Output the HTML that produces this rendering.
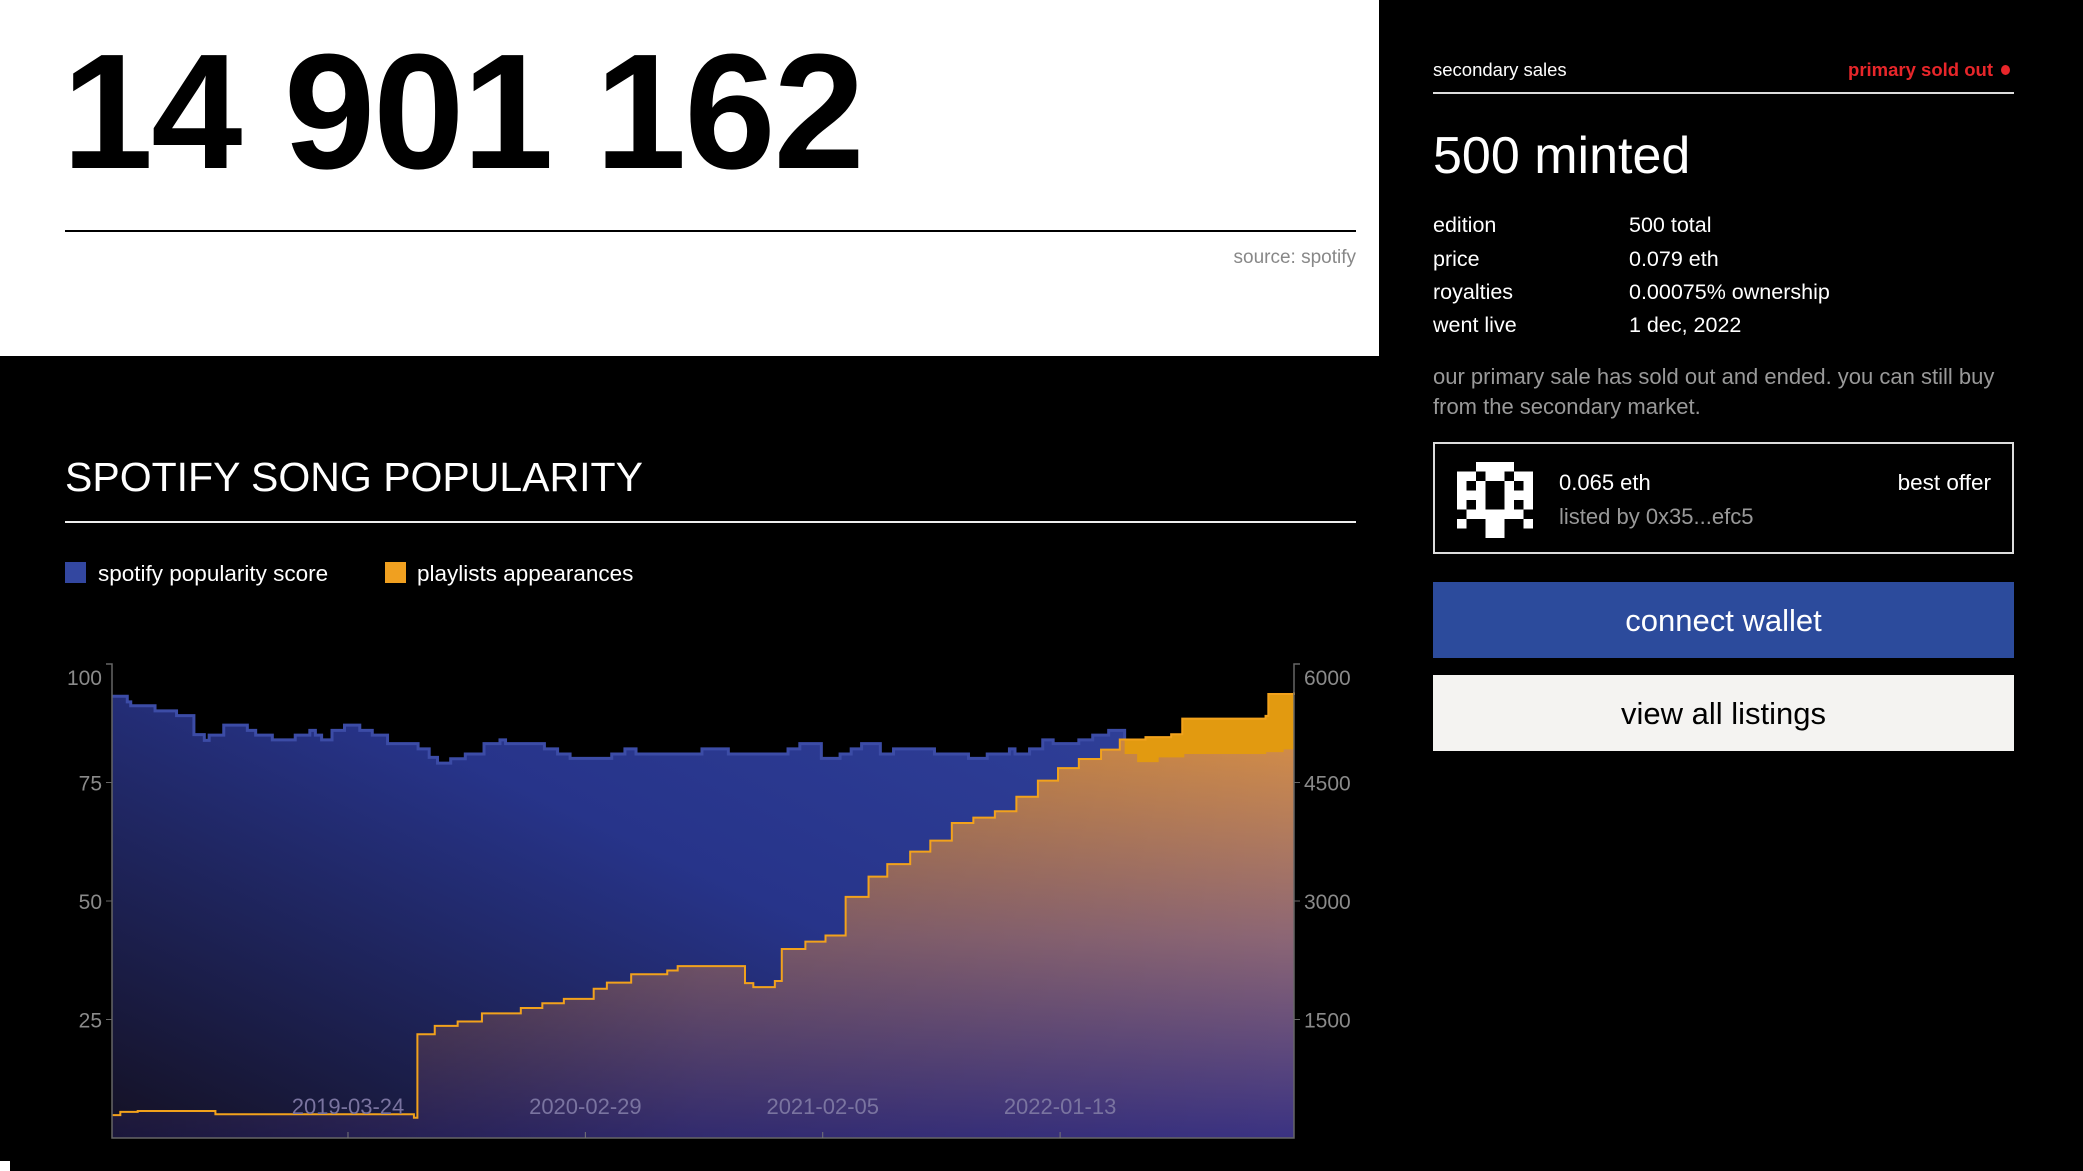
<!DOCTYPE html>
<html><head><meta charset="utf-8"><style>
*{margin:0;padding:0;box-sizing:border-box}
body{width:2083px;height:1171px;overflow:hidden;background:#000;font-family:"Liberation Sans",sans-serif;position:relative;color:#fff}
.a{position:absolute;white-space:nowrap}
</style></head><body>
<div class="a" style="left:0;top:0;width:1379px;height:356px;background:#fff"></div>
<div class="a" style="left:62px;top:30px;font-size:164px;line-height:164px;font-weight:bold;color:#000;letter-spacing:-2px">14 901 162</div>
<div class="a" style="left:65px;top:230px;width:1291px;height:2px;background:#000"></div>
<div class="a" style="right:727px;top:248px;font-size:19px;line-height:20px;color:#888">source: spotify</div>

<div class="a" style="left:1433px;top:60px;font-size:18.5px;line-height:20px">secondary sales</div>
<div class="a" style="right:90px;top:60px;font-size:18.5px;line-height:20px;color:#e8262a;font-weight:bold">primary sold out</div>
<div class="a" style="left:2001px;top:65px;width:9px;height:10px;border-radius:50%;background:#e8262a"></div>
<div class="a" style="left:1433px;top:92px;width:581px;height:2px;background:#ddd"></div>
<div class="a" style="left:1433px;top:130px;font-size:52px;line-height:52px">500 minted</div>
<div class="a" style="left:1433px;top:214px;font-size:21.5px;line-height:22px">edition</div>
<div class="a" style="left:1629px;top:214px;font-size:21.5px;line-height:22px">500 total</div>
<div class="a" style="left:1433px;top:248px;font-size:21.5px;line-height:22px">price</div>
<div class="a" style="left:1629px;top:248px;font-size:21.5px;line-height:22px">0.079 eth</div>
<div class="a" style="left:1433px;top:281px;font-size:21.5px;line-height:22px">royalties</div>
<div class="a" style="left:1629px;top:281px;font-size:21.5px;line-height:22px">0.00075% ownership</div>
<div class="a" style="left:1433px;top:314px;font-size:21.5px;line-height:22px">went live</div>
<div class="a" style="left:1629px;top:314px;font-size:21.5px;line-height:22px">1 dec, 2022</div>
<div class="a" style="left:1433px;top:362px;font-size:22px;line-height:30px;color:#999">our primary sale has sold out and ended. you can still buy<br>from the secondary market.</div>

<div class="a" style="left:1433px;top:442px;width:581px;height:112px;border:2px solid #ddd"></div>
<svg class="a" style="left:1456px;top:462px" width="78" height="76" viewBox="0 0 8 8" shape-rendering="crispEdges" id="av"></svg>
<div class="a" style="left:1559px;top:472px;font-size:22px;line-height:22px">0.065 eth</div>
<div class="a" style="left:1559px;top:506px;font-size:22px;line-height:22px;color:#999">listed by 0x35...efc5</div>
<div class="a" style="right:92px;top:472px;font-size:22.5px;line-height:22px">best offer</div>
<div class="a" style="left:1433px;top:582px;width:581px;height:76px;background:#2c4b9c;font-size:31px;line-height:78px;text-align:center">connect wallet</div>
<div class="a" style="left:1433px;top:675px;width:581px;height:76px;background:#f4f3f1;color:#000;font-size:31px;line-height:78px;text-align:center">view all listings</div>

<div class="a" style="left:65px;top:456px;font-size:41px;line-height:42px">SPOTIFY SONG POPULARITY</div>
<div class="a" style="left:65px;top:521px;width:1291px;height:2px;background:#eee"></div>
<div class="a" style="left:65px;top:562px;width:21px;height:21px;background:#3347a0"></div>
<div class="a" style="left:98px;top:562px;font-size:22.5px;line-height:24px">spotify popularity score</div>
<div class="a" style="left:385px;top:562px;width:21px;height:21px;background:#f0a020"></div>
<div class="a" style="left:417px;top:562px;font-size:22.5px;line-height:24px">playlists appearances</div>
<div class="a" style="left:0;top:1161px;width:10px;height:10px;background:#fff"></div>

<svg class="a" id="chart" style="left:0;top:640px" width="1358" height="531"></svg>

<script>
const startDate = "2018-04-18";
const popDays = [0,22,27,62,93,118,133,140,161,195,207,231,264,285,293,302,317,335,357,375,397,441,457,469,488,509,536,559,567,623,642,660,720,739,755,850,888,974,991,1022,1049,1065,1080,1107,1126,1185,1234,1261,1293,1301,1322,1341,1356,1393,1413,1436,1459,1477,1508,1545,1663,1688,1703];
const popValues = [93.2,92,91.2,90.1,89.1,85.1,83.9,85,87.1,86,85,84,85,86,85,84,86,87.1,86,85,83.2,82.1,80.3,79.1,80,81,83.2,84,83.2,82.1,81,80.1,81,82.1,81,82.1,81,82.1,83.2,80.1,81,82.1,83.2,81,82.1,81,80.1,81,82.1,81,82.1,84,83.2,84,85,86,81,79.3,80.3,81,81.4,82,82];
const plDays = [0,12,37,149,435,440,465,498,533,589,620,651,694,713,748,800,815,900,912,924,955,965,999,1028,1057,1090,1117,1150,1179,1210,1241,1272,1303,1334,1363,1393,1425,1452,1489,1526,1542,1602,1662,1666,1703];
const plValues = [290,330,341,300,256,1313,1420,1475,1578,1646,1706,1761,1889,1966,2072,2120,2175,2175,1960,1910,1987,2392,2486,2563,3053,3309,3467,3625,3765,3987,4055,4136,4320,4524,4682,4797,4916,5045,5074,5110,5309,5309,5343,5620,5641];
const leftTicks = [25,50,75,100];
const rightTicks = [1500,3000,4500,6000];
const dateTicks = ["2019-03-24","2020-02-29","2021-02-05","2022-01-13"];
const totalDays = 1703;

const NS="http://www.w3.org/2000/svg";
const svg=document.getElementById('chart');
const X0=112,X1=1294,YT=24,YB=498;
const dayMs=86400000, t0=Date.parse(startDate);
const x=d=>X0+(d/totalDays)*(X1-X0);
const xDate=s=>x((Date.parse(s)-t0)/dayMs);
const yL=v=>YB-(v/100)*(YB-YT);
const yR=v=>YB-(v/6000)*(YB-YT);
function el(t,a,p){const e=document.createElementNS(NS,t);for(const k in a)e.setAttribute(k,a[k]);(p||svg).appendChild(e);return e;}
function stepPath(days,vals,ys){let d='M'+x(days[0])+','+ys(vals[0]);for(let i=1;i<days.length;i++){d+='H'+x(days[i])+'V'+ys(vals[i]);}return d;}

const defs=el('defs',{});
const g1=el('linearGradient',{id:'gb',x1:'0',y1:'1',x2:'1',y2:'0.2'},defs);
el('stop',{offset:'0','stop-color':'#141124'},g1);el('stop',{offset:'0.6','stop-color':'#27348a'},g1);el('stop',{offset:'1','stop-color':'#2f3f98'},g1);
const g2=el('linearGradient',{id:'go',x1:'0',y1:'0',x2:'0',y2:'1'},defs);
el('stop',{offset:'0','stop-color':'#e4963c'},g2);el('stop',{offset:'0.55','stop-color':'#8c6675'},g2);el('stop',{offset:'1','stop-color':'#3a3282'},g2);
const g3=el('linearGradient',{id:'gs',x1:'0',y1:'0',x2:'1',y2:'0'},defs);
el('stop',{offset:'0','stop-color':'#000','stop-opacity':'0.55'},g3);el('stop',{offset:'0.5','stop-color':'#000','stop-opacity':'0.15'},g3);el('stop',{offset:'1','stop-color':'#000','stop-opacity':'0'},g3);

const pp=stepPath(popDays,popValues,yL), op=stepPath(plDays,plValues,yR);
const popArea=el('path',{d:pp+'H'+X1+'V'+YB+'H'+X0+'Z',fill:'url(#gb)'});

const popLine=el('path',{d:pp+'H'+X1,fill:'none',stroke:'#3c4ca6','stroke-width':3});

const plArea=el('path',{d:op+'H'+X1+'V'+YB+'H'+X0+'Z',fill:'url(#go)'});

const shade=el('path',{d:op+'H'+X1+'V'+YB+'H'+X0+'Z',fill:'url(#gs)'});

const cp=el('clipPath',{id:'above'},defs);el('path',{d:pp+'H'+X1+'V0H'+X0+'Z'},cp);
const solid=el('path',{d:op+'H'+X1+'V'+YB+'H'+X0+'Z',fill:'#e29a10','clip-path':'url(#above)'});

const plLine=el('path',{d:op,fill:'none',stroke:'#f2a21c','stroke-width':2});


const ax=el('path',{d:`M${X0-6},${YT}H${X0}V${YB}H${X1}V${YT}H${X1+6}`,fill:'none',stroke:'#666','stroke-width':1.5});

leftTicks.forEach(v=>{
  el('line',{x1:X0-6,x2:X0,y1:yL(v),y2:yL(v),stroke:'#666'});
  const t=el('text',{x:X0-10,y:yL(v)+8+(v===100?13:0),'text-anchor':'end','font-size':21,fill:'#8a8a8a','font-family':'Liberation Sans'});
  t.textContent=v;
  
  
});
rightTicks.forEach(v=>{
  el('line',{x1:X1,x2:X1+6,y1:yR(v),y2:yR(v),stroke:'#666'});
  const t=el('text',{x:X1+10,y:yR(v)+8+(v===6000?13:0),'font-size':21,fill:'#8a8a8a','font-family':'Liberation Sans'});
  t.textContent=v;
  
  
});
dateTicks.forEach(s=>{
  const xp=xDate(s);
  el('line',{x1:xp,x2:xp,y1:YB,y2:YB-6,stroke:'#777'});
  const t=el('text',{x:xp,y:YB-24,'text-anchor':'middle','font-size':22,fill:'#7a74a0','font-family':'Liberation Sans'});
  t.textContent=s;
  
  
});

const avatar=["..XXXX..","XX.XX.XX","X.X..X.X","XXX..XXX","X.X..X.X",".XXXXXX.","X..XX..X","...XX..."];
const av=document.getElementById('av');
avatar.forEach((r,j)=>[...r].forEach((c,i)=>{if(c==='X'){const e=document.createElementNS(NS,'rect');e.setAttribute('x',i);e.setAttribute('y',j);e.setAttribute('width',1);e.setAttribute('height',1);e.setAttribute('fill','#fff');av.appendChild(e);}}));
</script>
</body></html>
